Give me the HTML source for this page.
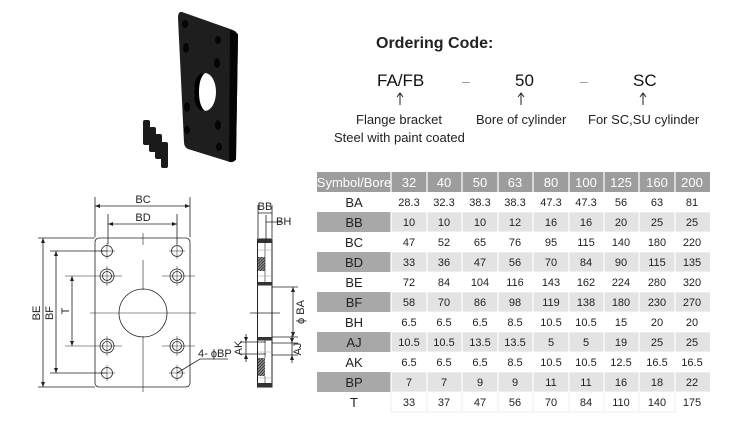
<!DOCTYPE html>
<html><head><meta charset="utf-8"><style>
html,body{margin:0;padding:0;background:#fff;width:750px;height:424px;overflow:hidden}
svg{display:block;font-family:"Liberation Sans",Arial,sans-serif}
</style></head><body>
<svg width="750" height="424" viewBox="0 0 750 424" xmlns="http://www.w3.org/2000/svg">
<defs>
<pattern id="h" width="3" height="3" patternUnits="userSpaceOnUse"><rect width="3" height="3" fill="#888"/><path d="M0 3L3 0" stroke="#333" stroke-width="0.8"/></pattern>
</defs>
<!-- photo -->
<path d="M182 12 L233 30 Q238 32 238 38 L236 158 Q235 163 230 162 L188 149 Q184 147 184 142 L178 18 Q178 11 182 12Z" fill="#1e1e1e"/>
<path d="M230 30 L238 34 L236 160 L229 162Z" fill="#050505"/>
<ellipse cx="205" cy="92" rx="11" ry="19" fill="#fff"/>
<path d="M194 92 Q194 73 205 73 Q199 78 199 92 Q199 106 205 111 Q194 111 194 92Z" fill="#000"/>
<g fill="#050505"><ellipse cx="185" cy="24" rx="3" ry="4"/><ellipse cx="218" cy="40" rx="3" ry="4"/><ellipse cx="186" cy="48" rx="3" ry="5"/><ellipse cx="217" cy="63" rx="3" ry="5"/><ellipse cx="187" cy="107" rx="3" ry="5"/><ellipse cx="218" cy="125" rx="3" ry="5"/><ellipse cx="187" cy="130" rx="3" ry="4"/><ellipse cx="219" cy="147" rx="3" ry="4"/></g>
<g fill="#1a1a1a"><rect x="143" y="120" width="7" height="25" rx="2"/><rect x="149" y="127" width="7" height="25" rx="2"/><rect x="155" y="134" width="7" height="25" rx="2"/><rect x="161" y="142" width="7" height="26" rx="2"/></g>
<!-- ordering code -->
<text x="376" y="48" font-size="16" font-weight="bold" fill="#222">Ordering Code:</text>
<g font-size="17" fill="#111"><text x="377" y="86">FA/FB</text><text x="515" y="86">50</text><text x="633" y="86">SC</text></g>
<g fill="#999" font-size="14"><text x="462" y="86">–</text><text x="580" y="86">–</text></g>
<g stroke="#222" stroke-width="1" fill="none"><path d="M400 105V94M397 97L400 93L403 97M521 105V94M518 97L521 93L524 97M643 105V94M640 97L643 93L646 97"/></g>
<g font-size="13" fill="#222"><text x="356" y="124">Flange bracket</text><text x="476" y="124">Bore of cylinder</text><text x="588" y="124">For SC,SU cylinder</text><text x="334" y="142">Steel with paint coated</text></g>
<!-- front view -->
<g stroke="#222" stroke-width="0.8" fill="none">
<rect x="95" y="238" width="95" height="149" rx="4"/>
<circle cx="143" cy="313" r="24"/>
<path d="M143 233V245M143 260V290M143 336V392M90 313H196" stroke-width="0.6"/>
<circle cx="107" cy="251" r="5.5"/><circle cx="177" cy="251" r="5.5"/><circle cx="107" cy="373" r="5.5"/><circle cx="177" cy="373" r="5.5"/>
<circle cx="107" cy="276" r="7"/><circle cx="107" cy="276" r="4.5"/><circle cx="177" cy="276" r="7"/><circle cx="177" cy="276" r="4.5"/>
<circle cx="107" cy="346" r="7"/><circle cx="107" cy="346" r="4.5"/><circle cx="177" cy="346" r="7"/><circle cx="177" cy="346" r="4.5"/>
<path d="M99 251H115M107 243V259M169 251H185M177 243V259M99 373H115M107 365V381M169 373H185M177 365V381" stroke-width="0.5"/>
<path d="M65 276H122M162 276H195M177 266V286M107 266V286M65 346H122M162 346H195M177 336V356M107 336V356" stroke-width="0.5"/>
<path d="M95 237V197M190 237V197M95 206H190M108 244V214M177 244V214M108 224H177"/>
<path d="M38 238H95M38 387H95M50 251H107M50 373H107M43 238V387M56 251V373M72 276V346"/>
<path d="M177 373L200 359H228"/>
</g>
<g fill="#222"><path d="M95 206l5-2v4zM190 206l-5-2v4zM108 224l5-2v4zM177 224l-5-2v4zM43 238l-2 5h4zM43 387l-2-5h4zM56 251l-2 5h4zM56 373l-2-5h4zM72 276l-2 5h4zM72 346l-2-5h4z"/></g>
<g font-size="11" fill="#222"><text x="143" y="203" text-anchor="middle">BC</text><text x="143" y="221" text-anchor="middle">BD</text><text x="198" y="357">4- ϕBP</text>
<text transform="translate(40 313) rotate(-90)" text-anchor="middle">BE</text><text transform="translate(53 313) rotate(-90)" text-anchor="middle">BF</text><text transform="translate(69 311) rotate(-90)" text-anchor="middle">T</text></g>
<!-- side view -->
<rect x="257.5" y="239" width="14.5" height="148" fill="#fff" stroke="#222" stroke-width="1"/>
<g fill="#333"><rect x="257.5" y="239" width="14.5" height="4"/><rect x="257.5" y="282" width="14.5" height="3.5"/><rect x="257.5" y="337" width="14.5" height="3.5"/><rect x="257.5" y="383" width="14.5" height="4"/></g>
<rect x="258" y="257" width="7" height="14" fill="url(#h)"/>
<rect x="258" y="358" width="7" height="18" fill="url(#h)"/>
<g stroke="#222" stroke-width="0.6" fill="none"><path d="M265 243V282M265 340V358M265 376V383"/><path d="M258 250H272M258 276H272M258 352H272M258 378H272" stroke="#999"/></g>
<g stroke="#222" stroke-width="0.8" fill="none">
<path d="M258 238V205M272 238V205M266 243V215M258 213H272M266 222H282M250 313H280"/>
<path d="M272 287H298M272 337H298M293 287V337M240 342H266M240 354H266M246 334V362M272 343H298M272 355H298M292 335V363"/>
</g>
<g fill="#222"><path d="M293 287l-2 5h4zM293 337l-2-5h4zM246 342l-2-5h4zM246 354l-2 5h4zM292 343l-2-5h4zM292 355l-2 5h4z"/></g>
<g font-size="11" fill="#222"><text x="265" y="210" text-anchor="middle">BB</text><text x="276" y="225">BH</text>
<text transform="translate(304 312) rotate(-90)" text-anchor="middle">ϕ BA</text><text transform="translate(242 348) rotate(-90)" text-anchor="middle">AK</text><text transform="translate(301 349) rotate(-90)" text-anchor="middle">AJ</text></g>
<!-- table -->
<rect x="317" y="172" width="393" height="20" fill="#9d9d9d"/>
<g fill="#e3e3e3"><rect x="391" y="212" width="319" height="20"/><rect x="391" y="252" width="319" height="20"/><rect x="391" y="292" width="319" height="20"/><rect x="391" y="332" width="319" height="20"/><rect x="391" y="372" width="319" height="20"/></g>
<g fill="#a8a8a8"><rect x="317" y="212" width="74" height="20"/><rect x="317" y="252" width="74" height="20"/><rect x="317" y="292" width="74" height="20"/><rect x="317" y="332" width="74" height="20"/><rect x="317" y="372" width="74" height="20"/></g>
<g stroke="#fff" stroke-width="1.2"><path d="M391 172V392M427 172V392M462 172V392M498 172V392M533 172V392M569 172V392M604 172V392M639 172V392M675 172V392"/><path d="M391 212H710M391 232H710M391 252H710M391 272H710M391 292H710M391 312H710M391 332H710M391 352H710M391 372H710M391 392H710" stroke-width="0.8"/></g>
<g stroke="#eee" stroke-width="1"><path d="M391 392V412M427 392V412M462 392V412M498 392V412M533 392V412M569 392V412M604 392V412M639 392V412M675 392V412M391 412H675"/></g>
<g font-size="13" fill="#fff" text-anchor="middle"><text x="354" y="187">Symbol/Bore</text><text x="409" y="187">32</text><text x="444" y="187">40</text><text x="480" y="187">50</text><text x="515" y="187">63</text><text x="551" y="187">80</text><text x="586" y="187">100</text><text x="621" y="187">125</text><text x="657" y="187">160</text><text x="692" y="187">200</text></g>
<g font-size="13" fill="#222" text-anchor="middle"><text x="354" y="207">BA</text><text x="354" y="227">BB</text><text x="354" y="247">BC</text><text x="354" y="267">BD</text><text x="354" y="287">BE</text><text x="354" y="307">BF</text><text x="354" y="327">BH</text><text x="354" y="347">AJ</text><text x="354" y="367">AK</text><text x="354" y="387">BP</text><text x="354" y="407">T</text></g>
<g font-size="11" fill="#222" text-anchor="middle">
<g transform="translate(0 206)"><text x="409">28.3</text><text x="444">32.3</text><text x="480">38.3</text><text x="515">38.3</text><text x="551">47.3</text><text x="586">47.3</text><text x="621">56</text><text x="657">63</text><text x="692">81</text></g>
<g transform="translate(0 226)"><text x="409">10</text><text x="444">10</text><text x="480">10</text><text x="515">12</text><text x="551">16</text><text x="586">16</text><text x="621">20</text><text x="657">25</text><text x="692">25</text></g>
<g transform="translate(0 246)"><text x="409">47</text><text x="444">52</text><text x="480">65</text><text x="515">76</text><text x="551">95</text><text x="586">115</text><text x="621">140</text><text x="657">180</text><text x="692">220</text></g>
<g transform="translate(0 266)"><text x="409">33</text><text x="444">36</text><text x="480">47</text><text x="515">56</text><text x="551">70</text><text x="586">84</text><text x="621">90</text><text x="657">115</text><text x="692">135</text></g>
<g transform="translate(0 286)"><text x="409">72</text><text x="444">84</text><text x="480">104</text><text x="515">116</text><text x="551">143</text><text x="586">162</text><text x="621">224</text><text x="657">280</text><text x="692">320</text></g>
<g transform="translate(0 306)"><text x="409">58</text><text x="444">70</text><text x="480">86</text><text x="515">98</text><text x="551">119</text><text x="586">138</text><text x="621">180</text><text x="657">230</text><text x="692">270</text></g>
<g transform="translate(0 326)"><text x="409">6.5</text><text x="444">6.5</text><text x="480">6.5</text><text x="515">8.5</text><text x="551">10.5</text><text x="586">10.5</text><text x="621">15</text><text x="657">20</text><text x="692">20</text></g>
<g transform="translate(0 346)"><text x="409">10.5</text><text x="444">10.5</text><text x="480">13.5</text><text x="515">13.5</text><text x="551">5</text><text x="586">5</text><text x="621">19</text><text x="657">25</text><text x="692">25</text></g>
<g transform="translate(0 366)"><text x="409">6.5</text><text x="444">6.5</text><text x="480">6.5</text><text x="515">8.5</text><text x="551">10.5</text><text x="586">10.5</text><text x="621">12.5</text><text x="657">16.5</text><text x="692">16.5</text></g>
<g transform="translate(0 386)"><text x="409">7</text><text x="444">7</text><text x="480">9</text><text x="515">9</text><text x="551">11</text><text x="586">11</text><text x="621">16</text><text x="657">18</text><text x="692">22</text></g>
<g transform="translate(0 406)"><text x="409">33</text><text x="444">37</text><text x="480">47</text><text x="515">56</text><text x="551">70</text><text x="586">84</text><text x="621">110</text><text x="657">140</text><text x="692">175</text></g>
</g>
</svg>
</body></html>
